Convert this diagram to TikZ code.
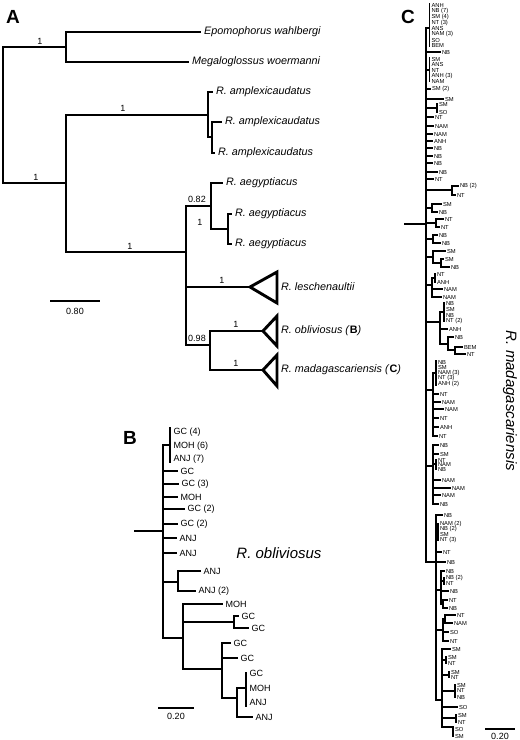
\documentclass[tikz,border=0pt]{standalone}
\usepackage{fontspec}
\setmainfont{Liberation Sans}
% tip: one terminal branch with its label
\newcommand{\leaf}[5]{\node[tip] (#1) at (#3,#4) {#5};
  \draw[branch] (#2,#4) -- (#1.west);}
% label only (tip of zero length)
\newcommand{\lab}[4]{\node[tip] (#1) at (#2,#3) {#4};}

\begin{document}
\begin{tikzpicture}[
        x=1pt, y=-1pt,
        support/.style={font=\fontsize{9}{10}\selectfont, inner sep=0pt},
        panel/.style={font=\fontsize{19}{20}\selectfont\bfseries, inner sep=0pt},
        bigname/.style={font=\fontsize{15}{16}\selectfont\itshape, inner sep=0pt},
        scalebar/.style={line width=2.2pt}
    ]
    \useasboundingbox (0,0) rectangle (520,740);

    % ==========================================
    % PANEL A: whole tree
    % ==========================================
    \begin{scope}[
        branch/.style={line width=2.9pt, line cap=rect},
        tip/.style={anchor=west, inner sep=0pt, inner xsep=4pt, font=\fontsize{10.8}{12}\selectfont\itshape}
    ]
        \node[panel] (labA) at (13,17) {A};

        % outgroup
        \draw[branch] (3,47) -- (3,183);
        \draw[branch] (3,47) -- (66,47);
        \node[support] (sA1) at (40,41) {1};
        \draw[branch] (66,32) -- (66,62);
        \leaf{epo}{66}{200}{32}{Epomophorus wahlbergi}
        \leaf{meg}{66}{188}{62}{Megaloglossus woermanni}

        % ingroup
        \draw[branch] (3,183) -- (66,183);
        \node[support] (sA2) at (36,177) {1};
        \draw[branch] (66,115) -- (66,252);

        % R. amplexicaudatus
        \draw[branch] (66,115) -- (208,115);
        \node[support] (sA3) at (123,108) {1};
        \draw[branch] (208,92) -- (208,137);
        \leaf{amp1}{208}{212}{92}{R. amplexicaudatus}
        \draw[branch] (208,137) -- (212,137);
        \draw[branch] (212,122) -- (212,153);
        \leaf{amp2}{212}{221}{122}{R. amplexicaudatus}
        \leaf{amp3}{212}{214}{153}{R. amplexicaudatus}

        % R. aegyptiacus and the rest
        \draw[branch] (66,252) -- (186,252);
        \node[support] (sA4) at (130,246) {1};
        \draw[branch] (186,206) -- (186,345);
        \draw[branch] (186,206) -- (211,206);
        \node[support] (sA5) at (197,199) {0.82};
        \draw[branch] (211,183) -- (211,229);
        \leaf{aeg1}{211}{222}{183}{R. aegyptiacus}
        \draw[branch] (211,229) -- (228,229);
        \node[support] (sA6) at (200,222) {1};
        \draw[branch] (228,214) -- (228,244);
        \leaf{aeg2}{228}{231}{214}{R. aegyptiacus}
        \leaf{aeg3}{228}{231}{244}{R. aegyptiacus}

        % collapsed clades
        \draw[branch] (186,287) -- (250,287);
        \node[support] (sA7) at (222,280) {1};
        \draw[branch, line join=miter] (250,287) -- (277,272) -- (277,303) -- cycle;
        \node[tip] (les) at (277,287) {R. leschenaultii};

        \draw[branch] (186,345) -- (210,345);
        \node[support] (sA8) at (197,338) {0.98};
        \draw[branch] (210,331) -- (210,370);
        \draw[branch] (210,331) -- (263,331);
        \node[support] (sA9) at (236,324) {1};
        \draw[branch, line join=miter] (263,331) -- (277,316) -- (277,346) -- cycle;
        \node[tip] (obl) at (277,331) {R. obliviosus (\textup{\textbf{B}})};
        \draw[branch] (210,370) -- (263,370);
        \node[support] (sA10) at (236,363) {1};
        \draw[branch, line join=miter] (263,370) -- (277,355) -- (277,386) -- cycle;
        \node[tip] (mad) at (277,370) {R. madagascariensis (\textup{\textbf{C}})};

        % scale
        \draw[scalebar] (50,301) coordinate (barA1) -- (100,301) coordinate (barA2);
        \node[support] (barAtxt) at (75,311) {0.80};
    \end{scope}

    % ==========================================
    % PANEL B: R. obliviosus
    % ==========================================
    \begin{scope}[
        branch/.style={line width=2.5pt, line cap=rect},
        tip/.style={anchor=west, inner sep=0pt, inner xsep=3.5pt, font=\fontsize{9}{10}\selectfont}
    ]
        \node[panel] (labB) at (130,438) {B};
        \node[bigname] (oblname) at (279,553) {R. obliviosus};

        \draw[branch] (135,531) -- (163,531);
        \draw[branch] (163,445) -- (163,638);

        \draw[branch] (163,445) -- (170,445);
        \draw[branch] (170,428) -- (170,462);
        \lab{b1}{170}{432}{GC (4)}
        \lab{b2}{170}{446}{MOH (6)}
        \lab{b3}{170}{459}{ANJ (7)}
        \leaf{b4}{163}{177}{471}{GC}
        \leaf{b5}{163}{178}{484}{GC (3)}
        \leaf{b6}{163}{177}{497}{MOH}
        \leaf{b7}{163}{184}{509}{GC (2)}
        \leaf{b8}{163}{177}{524}{GC (2)}
        \leaf{b9}{163}{176}{538}{ANJ}
        \leaf{b10}{163}{176}{553}{ANJ}

        \draw[branch] (163,582) -- (178,582);
        \draw[branch] (178,571) -- (178,591);
        \leaf{b11}{178}{200}{571}{ANJ}
        \leaf{b12}{178}{195}{591}{ANJ (2)}

        \draw[branch] (163,638) -- (183,638);
        \draw[branch] (183,604) -- (183,669);
        \leaf{b13}{183}{222}{604}{MOH}
        \draw[branch] (183,622) -- (234,622);
        \draw[branch] (234,616) -- (234,628);
        \leaf{b14}{234}{238}{616}{GC}
        \leaf{b15}{234}{248}{628}{GC}

        \draw[branch] (183,669) -- (222,669);
        \draw[branch] (222,643) -- (222,698);
        \leaf{b16}{222}{230}{643}{GC}
        \leaf{b17}{222}{237}{658}{GC}
        \draw[branch] (222,698) -- (237,698);
        \draw[branch] (237,688) -- (237,717);
        \draw[branch] (237,688) -- (246,688);
        \draw[branch] (246,673) -- (246,706);
        \lab{b18}{246}{673}{GC}
        \lab{b19}{246}{688}{MOH}
        \lab{b20}{246}{702}{ANJ}
        \leaf{b21}{237}{252}{717}{ANJ}

        % scale
        \draw[scalebar] (158,708) coordinate (barB1) -- (194,708) coordinate (barB2);
        \node[support] (barBtxt) at (176,716) {0.20};
    \end{scope}

    % ==========================================
    % PANEL C: R. madagascariensis
    % ==========================================
    \begin{scope}[
        branch/.style={line width=1.9pt, line cap=rect},
        tip/.style={anchor=west, inner sep=0pt, inner xsep=1.8pt, font=\fontsize{5.8}{6}\selectfont}
    ]
        \node[panel] (labC) at (408,17) {C};
        \node[bigname, rotate=-90] (madname) at (510,401) {R. madagascariensis};

        \draw[branch] (405,224) -- (426,224);
        \draw[branch] (426,28) -- (426,562);

        % top polytomy
        \draw[branch] (426,28) -- (429.5,28);
        \draw[branch] (429.5,4) -- (429.5,46);
        \lab{c1}{429.5}{5}{ANH}
        \lab{c2}{429.5}{11}{NB (7)}
        \lab{c3}{429.5}{17}{SM (4)}
        \lab{c4}{429.5}{22.5}{NT (3)}
        \lab{c5}{429.5}{28.5}{ANS}
        \lab{c6}{429.5}{34}{NAM (3)}
        \lab{c7}{429.5}{40}{SO}
        \lab{c8}{429.5}{45.5}{BEM}
        \leaf{c9}{426}{440}{52}{NB}
        \draw[branch] (426,70) -- (429.5,70);
        \draw[branch] (429.5,58) -- (429.5,81);
        \lab{c10}{429.5}{59}{SM}
        \lab{c11}{429.5}{64.5}{ANS}
        \lab{c12}{429.5}{70}{NT}
        \lab{c13}{429.5}{75.5}{ANH (3)}
        \lab{c14}{429.5}{81}{NAM}
        \leaf{c15}{426}{430}{89}{SM (2)}
        \leaf{c16}{426}{443}{99}{SM}
        \draw[branch] (426,108) -- (437,108);
        \draw[branch] (437,104) -- (437,112);
        \lab{c17}{437}{104}{SM}
        \lab{c18}{437}{112}{SO}
        \leaf{c19}{426}{433}{117}{NT}
        \leaf{c20}{426}{433}{126}{NAM}
        \leaf{c21}{426}{432}{134}{NAM}
        \leaf{c22}{426}{432}{141}{ANH}
        \leaf{c23}{426}{432}{148}{NB}
        \leaf{c24}{426}{432}{156}{NB}
        \leaf{c25}{426}{432}{163}{NB}
        \leaf{c26}{426}{437}{172}{NB}
        \leaf{c27}{426}{433}{179}{NT}
        \draw[branch] (426,190) -- (452,190);
        \draw[branch] (452,186) -- (452,195);
        \leaf{c28}{452}{458}{186}{NB (2)}
        \leaf{c29}{452}{455}{195}{NT}
        \draw[branch] (426,208) -- (432,208);
        \draw[branch] (432,204) -- (432,212);
        \leaf{c30}{432}{441}{204}{SM}
        \leaf{c31}{432}{437}{212}{NB}
        \draw[branch] (426,223) -- (436,223);
        \draw[branch] (436,219) -- (436,227);
        \leaf{c32}{436}{443}{219}{NT}
        \leaf{c33}{436}{439}{227}{NT}
        \draw[branch] (426,239) -- (433,239);
        \draw[branch] (433,235) -- (433,243);
        \leaf{c34}{433}{437}{235}{NB}
        \leaf{c35}{433}{440}{243}{NB}
        \draw[branch] (426,257) -- (433,257);
        \draw[branch] (433,251) -- (433,263);
        \leaf{c36}{433}{445}{251}{SM}
        \draw[branch] (433,263) -- (441,263);
        \draw[branch] (441,259) -- (441,267);
        \leaf{c37}{441}{443}{259}{SM}
        \leaf{c38}{441}{449}{267}{NB}
        \draw[branch] (426,285) -- (432,285);
        \draw[branch] (432,278) -- (432,297);
        \draw[branch] (432,278) -- (435,278);
        \draw[branch] (435,274) -- (435,282);
        \lab{c39}{435}{274}{NT}
        \lab{c40}{435}{282}{ANH}
        \leaf{c41}{432}{442}{289}{NAM}
        \leaf{c42}{432}{441}{297}{NAM}
        \draw[branch] (426,322) -- (440,322);
        \draw[branch] (440,312) -- (440,344);
        \draw[branch] (440,312) -- (444,312);
        \draw[branch] (444,303) -- (444,321);
        \lab{c43}{444}{303}{NB}
        \lab{c44}{444}{309}{SM}
        \lab{c45}{444}{315}{NB}
        \lab{c46}{444}{321}{NT (2)}
        \leaf{c47}{440}{447}{329}{ANH}
        \draw[branch] (440,344) -- (448,344);
        \draw[branch] (448,337) -- (448,350);
        \leaf{c48}{448}{453}{337}{NB}
        \draw[branch] (448,350) -- (455,350);
        \draw[branch] (455,347) -- (455,354);
        \leaf{c49}{455}{462}{347}{BEM}
        \leaf{c50}{455}{465}{354}{NT}

        \draw[branch] (426,390) -- (433,390);
        \draw[branch] (433,373) -- (433,436);
        \draw[branch] (433,373) -- (436,373);
        \draw[branch] (436,361) -- (436,385);
        \lab{c51}{436}{362}{NB}
        \lab{c52}{436}{367}{SM}
        \lab{c53}{436}{372.5}{NAM (3)}
        \lab{c54}{436}{378}{NT (3)}
        \lab{c55}{436}{384}{ANH (2)}
        \leaf{c56}{433}{438}{394}{NT}
        \leaf{c57}{433}{440}{402}{NAM}
        \leaf{c58}{433}{443}{409}{NAM}
        \leaf{c59}{433}{438}{418}{NT}
        \leaf{c60}{433}{438}{427}{ANH}
        \leaf{c61}{433}{437}{436}{NT}

        \draw[branch] (426,466) -- (433,466);
        \draw[branch] (433,445) -- (433,504);
        \leaf{c62}{433}{438}{445}{NB}
        \leaf{c63}{433}{438}{454}{SM}
        \draw[branch] (433,464) -- (436,464);
        \draw[branch] (436,460) -- (436,469);
        \lab{c64}{436}{460}{NT}
        \lab{c65}{436}{464.5}{NAM}
        \lab{c66}{436}{469}{NB}
        \leaf{c67}{433}{440}{480}{NAM}
        \leaf{c68}{433}{450}{488}{NAM}
        \leaf{c69}{433}{440}{495}{NAM}
        \leaf{c70}{433}{438}{504}{NB}

        % lower clade
        \draw[branch] (426,562) -- (436,562);
        \draw[branch] (436,515) -- (436,700);
        \leaf{c71}{436}{442}{515}{NB}
        \draw[branch] (436,532) -- (438,532);
        \draw[branch] (438,524) -- (438,540);
        \lab{c72}{438}{524}{NAM (2)}
        \lab{c73}{438}{529}{NB (2)}
        \lab{c74}{438}{534.5}{SM}
        \lab{c75}{438}{540}{NT (3)}
        \leaf{c76}{436}{441}{552}{NT}
        \leaf{c77}{436}{445}{562}{NB}
        \draw[branch] (436,590) -- (441,590);
        \draw[branch] (441,571) -- (441,604);
        \leaf{c78}{441}{444}{571}{NB}
        \draw[branch] (441,581) -- (444,581);
        \draw[branch] (444,578) -- (444,584);
        \lab{c79}{444}{578}{NB (2)}
        \lab{c80}{444}{583.5}{NT}
        \leaf{c81}{441}{448}{591}{NB}
        \draw[branch] (441,604) -- (443,604);
        \draw[branch] (443,600) -- (443,608);
        \leaf{c82}{443}{447}{600}{NT}
        \leaf{c83}{443}{447}{608}{NB}
        \draw[branch] (436,630) -- (443,630);
        \draw[branch] (443,619) -- (443,641);
        \draw[branch] (443,619) -- (445,619);
        \draw[branch] (445,615) -- (445,623);
        \leaf{c84}{445}{455}{615}{NT}
        \leaf{c85}{445}{452}{623}{NAM}
        \leaf{c86}{443}{448}{632}{SO}
        \leaf{c87}{443}{448}{641}{NT}
        \draw[branch] (436,700) -- (442,700);
        \draw[branch] (442,649) -- (442,727);
        \leaf{c88}{442}{450}{649}{SM}
        \draw[branch] (442,660) -- (446,660);
        \draw[branch] (446,657) -- (446,663);
        \lab{c89}{446}{657}{SM}
        \lab{c90}{446}{663}{NT}
        \draw[branch] (442,675) -- (449,675);
        \draw[branch] (449,672) -- (449,677);
        \lab{c91}{449}{672}{SM}
        \lab{c92}{449}{677}{NT}
        \draw[branch] (442,691) -- (455,691);
        \draw[branch] (455,685) -- (455,697);
        \lab{c93}{455}{685}{SM}
        \lab{c94}{455}{690.5}{NT}
        \lab{c95}{455}{697}{NB}
        \leaf{c96}{442}{457}{707}{SO}
        \draw[branch] (442,718) -- (456,718);
        \draw[branch] (456,715) -- (456,722);
        \lab{c97}{456}{715}{SM}
        \lab{c98}{456}{722}{NT}
        \draw[branch] (442,727) -- (453,727);
        \draw[branch] (453,729) -- (453,736);
        \lab{c99}{453}{729}{SO}
        \lab{c100}{453}{736}{SM}

        % scale
        \draw[scalebar] (485,729) coordinate (barC1) -- (515,729) coordinate (barC2);
        \node[support] (barCtxt) at (500,736) {0.20};
    \end{scope}

\end{tikzpicture}
\end{document}
